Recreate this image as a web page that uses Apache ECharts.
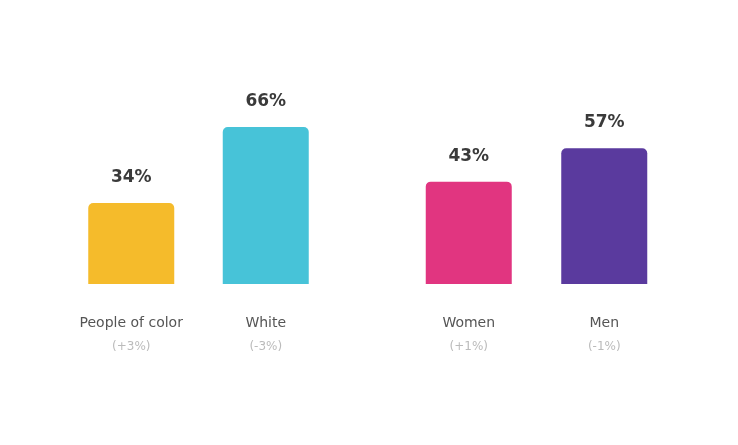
<!DOCTYPE html>
<html><head><meta charset="utf-8">
<script src="https://cdn.jsdelivr.net/npm/echarts@6/dist/echarts.min.js"></script>
<style>html,body{margin:0;padding:0;background:#fff}#c{width:738px;height:445px}</style>
</head><body><div id="c"></div>
<script>
const raceCategories = ['People of color', 'White'];
const raceValues = [34, 66];
const raceChanges = ['(+3%)', '(-3%)'];
const genderCategories = ['Women', 'Men'];
const genderValues = [43, 57];
const genderChanges = ['(+1%)', '(-1%)'];
const raceColors = ['#F5BB2B', '#47C3D8'];
const genderColors = ['#E13580', '#5A3A9E'];

const chart = echarts.init(document.getElementById('c'));
const font = '"DejaVu Sans", sans-serif';
function xAxis(idx, cats, changes) {
  return {
    type: 'category', gridIndex: idx, data: cats,
    axisLine: {show: false}, axisTick: {show: false},
    axisLabel: {
      margin: 27, interval: 0,
      formatter: (v, i) => '{a|' + v + '}\n{b|' + changes[i] + '}',
      rich: {
        a: {fontFamily: font, fontSize: 14, color: '#555', lineHeight: 24},
        b: {fontFamily: font, fontSize: 12, color: '#bbb', lineHeight: 24}
      }
    }
  };
}
function yAxis(idx) {
  return {type: 'value', gridIndex: idx, min: 0, max: 100, show: false, splitLine: {show: false}};
}
function series(idx, vals, colors) {
  return {
    type: 'bar', xAxisIndex: idx, yAxisIndex: idx, barWidth: 86,
    data: vals.map((v, i) => ({value: v, itemStyle: {color: colors[i], borderRadius: [5, 5, 0, 0]}})),
    label: {show: true, position: 'top', distance: 17, formatter: '{c}%',
      fontFamily: font, fontSize: 17, fontWeight: 'bold', color: '#3a3a3a'}
  };
}
chart.setOption({
  animation: false,
  grid: [
    {left: 64, width: 269, top: 46, height: 238},
    {left: 401, width: 271, top: 46, height: 238}
  ],
  xAxis: [xAxis(0, raceCategories, raceChanges), xAxis(1, genderCategories, genderChanges)],
  yAxis: [yAxis(0), yAxis(1)],
  series: [series(0, raceValues, raceColors), series(1, genderValues, genderColors)]
});
</script></body></html>
